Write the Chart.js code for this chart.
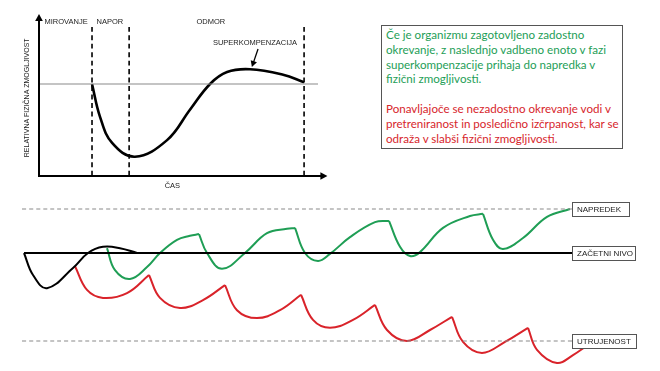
<!DOCTYPE html>
<html>
<head>
<meta charset="utf-8">
<script src="https://cdn.jsdelivr.net/npm/chart.js@4.4.1/dist/chart.umd.min.js"></script>
<style>
body { margin: 0; width: 660px; height: 371px; background: #fff; position: relative; overflow: hidden; }
canvas { position: absolute; left: 0; }
#topChart { top: 0; }
#bottomChart { top: 180px; }
#note {
    position: absolute; left: 381px; top: 25px; width: 242px; height: 124px;
    border: 1px solid #555; box-sizing: border-box;
    font-family: Lato, sans-serif; font-size: 11.6px; line-height: 14.8px;
    padding: 0 0 0 4px; white-space: nowrap;
}
#note p { margin: 2px 0 0 0; }
#note .g { color: #1e9e57; }
#note .r { color: #d7262c; margin-top: 14.8px; }
</style>
</head>
<body>
<canvas id="topChart" width="340" height="200"></canvas>
<canvas id="bottomChart" width="660" height="191"></canvas>
<div id="note">
<p class="g">Če je organizmu zagotovljeno zadostno<br>okrevanje, z naslednjo vadbeno enoto v fazi<br>superkompenzacije prihaja do napredka v<br>fizični zmogljivosti.</p>
<p class="r">Ponavljajoče se nezadostno okrevanje vodi v<br>pretreniranost in posledično izčrpanost, kar se<br>odraža v slabši fizični zmogljivosti.</p>
</div>
<script>
// --- zgornji graf: superkompenzacija
const topX = [19, 21.9, 26.2, 34.4, 45.9, 54.1, 61.3, 67.4, 75.6, 87.5, 95];
const topY = [100, 64, 36, 21, 39, 72, 100, 113, 116, 110, 102];
const phaseBounds = [19, 32.3, 95];
const phaseLabels = ['MIROVANJE', 'NAPOR', 'ODMOR'];
const phaseCenters = [9.7, 25.4, 61.6];
const baseLevel = 100;

// --- spodnji graf: ponavljajoče obremenitve
const blackX = [0.2, 1.1, 2.5, 5.1, 6.6, 8.1, 9.8, 11.5];
const blackY = [0, -0.5, -0.8, -0.34, 0, 0.14, 0.11, 0];

const greenX = [8.5, 9.3, 10.8, 12.5, 13.8, 15.5, 16.8, 17.7, 18.5, 20.0, 22.3, 24.5, 26.5, 27.3, 28.3, 29.6, 30.8, 32.8, 35.3, 36.7, 37.8, 38.8, 39.8, 42.1, 44.8, 46.1, 47.1, 48.1, 50.1, 52.5, 54.8];
const greenY = [0.11, -0.39, -0.59, -0.32, 0, 0.30, 0.39, 0.43, 0, -0.36, 0, 0.45, 0.55, 0.57, 0, -0.18, -0.02, 0.36, 0.70, 0.73, 0.14, -0.07, 0.02, 0.57, 0.84, 0.89, 0.30, 0.09, 0.34, 0.82, 1.0];
const greenCusps = [7, 13, 19, 25];

const redX = [5.3, 6.5, 8.1, 10.5, 12.7, 13.8, 15.8, 18.1, 20.3, 21.5, 23.5, 25.8, 27.9, 29.1, 30.8, 33.1, 35.3, 36.5, 38.5, 40.8, 43.0, 44.1, 46.0, 48.3, 50.6, 51.5, 53.5, 55.1, 56.6];
const redY = [-0.30, -0.84, -1.02, -0.91, -0.50, -1.02, -1.25, -1.07, -0.73, -1.30, -1.48, -1.30, -0.95, -1.52, -1.70, -1.52, -1.18, -1.75, -2.0, -1.75, -1.45, -2.02, -2.27, -2.02, -1.70, -2.2, -2.5, -2.32, -2.09];
const redCusps = [4, 8, 12, 16, 20, 24];

const levelValues = [1, 0, -2];
const levelLabels = ['NAPREDEK', 'ZAČETNI NIVO', 'UTRUJENOST'];
const levelEnd = 55;

const GREEN = '#1f9e55';
const RED = '#d9232a';

function pts(xs, ys) { return xs.map((x, i) => ({ x, y: ys[i] })); }

function curve(data, color, width) {
    return { data, borderColor: color, borderWidth: width, pointRadius: 0, fill: false, clip: false, tension: 0.4 };
}

function split(xs, ys, cusps, color) {
    const cuts = [0, ...cusps, xs.length - 1];
    const out = [];
    for (let i = 0; i < cuts.length - 1; i++) {
        out.push(curve(pts(xs.slice(cuts[i], cuts[i + 1] + 1), ys.slice(cuts[i], cuts[i + 1] + 1)), color, 2));
    }
    return out;
}

function arrowHead(ctx, x, y, dx, dy, size) {
    const len = Math.hypot(dx, dy), ux = dx / len, uy = dy / len;
    ctx.beginPath();
    ctx.moveTo(x, y);
    ctx.lineTo(x - ux * size - uy * size * 0.55, y - uy * size + ux * size * 0.55);
    ctx.lineTo(x - ux * size + uy * size * 0.55, y - uy * size - ux * size * 0.55);
    ctx.closePath();
    ctx.fill();
}

const topDecor = {
    id: 'topDecor',
    afterDatasetsDraw(chart) {
        const { ctx, scales: { x, y } } = chart;
        ctx.save();
        ctx.strokeStyle = '#000'; ctx.fillStyle = '#000'; ctx.lineWidth = 2;
        const x0 = x.getPixelForValue(0), y0 = y.getPixelForValue(0);
        const xEnd = x.getPixelForValue(x.max), yEnd = y.getPixelForValue(y.max);
        ctx.beginPath(); ctx.moveTo(x0, y0); ctx.lineTo(x0, yEnd + 3); ctx.stroke();
        ctx.beginPath(); ctx.moveTo(x0 - 1, y0); ctx.lineTo(xEnd - 3, y0); ctx.stroke();
        arrowHead(ctx, x0, yEnd - 1, 0, -1, 7);
        arrowHead(ctx, xEnd + 1, y0, 1, 0, 7);

        ctx.font = '7.5px "Liberation Sans", Arial, sans-serif';
        ctx.fillStyle = '#222';
        ctx.textAlign = 'center'; ctx.textBaseline = 'middle';
        phaseLabels.forEach((t, i) => ctx.fillText(t, x.getPixelForValue(phaseCenters[i]), y.getPixelForValue(168)));
        ctx.fillText('SUPERKOMPENZACIJA', x.getPixelForValue(77.4), y.getPixelForValue(144.6));
        ctx.fillText('ČAS', x.getPixelForValue(47.8), y0 + 10);

        // puščica na superkompenzacijo
        const ax = x.getPixelForValue(78.5), ay = y.getPixelForValue(138);
        const bx = x.getPixelForValue(76.3), by = y.getPixelForValue(118.5);
        ctx.strokeStyle = '#000'; ctx.lineWidth = 1.3;
        ctx.beginPath(); ctx.moveTo(ax, ay); ctx.lineTo(bx + (ax - bx) * 0.2, by + (ay - by) * 0.2); ctx.stroke();
        ctx.fillStyle = '#000';
        arrowHead(ctx, bx, by, bx - ax, by - ay, 6);

        ctx.save();
        ctx.fillStyle = '#222';
        ctx.font = '7px "Liberation Sans", Arial, sans-serif';
        ctx.translate(x0 - 12, y.getPixelForValue(85));
        ctx.rotate(-Math.PI / 2);
        ctx.fillText('RELATIVNA FIZIČNA ZMOGLJIVOST', 0, 0);
        ctx.restore();
        ctx.restore();
    }
};

const topDatasets = [
    curve([{ x: 0, y: baseLevel }, { x: 100, y: baseLevel }], '#8a8a8a', 1.2),
    ...phaseBounds.map(b => ({ ...curve([{ x: b, y: 0 }, { x: b, y: 162 }], '#000', 1.6), borderDash: [5, 3.5] })),
    curve(pts(topX, topY), '#000', 2.6)
];

new Chart(document.getElementById('topChart'), {
    type: 'line',
    data: { datasets: topDatasets },
    options: {
        responsive: false, animation: false,
        layout: { padding: { left: 39, right: 13.6, top: 15, bottom: 24 } },
        plugins: { legend: { display: false }, tooltip: { enabled: false } },
        scales: {
            x: { type: 'linear', min: 0, max: 103, display: false },
            y: { min: 0, max: 175, display: false }
        }
    },
    plugins: [topDecor]
});

const levelBoxes = {
    id: 'levelBoxes',
    afterDatasetsDraw(chart) {
        const { ctx, scales: { x, y } } = chart;
        ctx.save();
        ctx.font = '8px "Liberation Sans", Arial, sans-serif';
        ctx.textBaseline = 'middle';
        const widths = [57, 63, 64];
        levelLabels.forEach((t, i) => {
            const px = x.getPixelForValue(levelEnd), py = y.getPixelForValue(levelValues[i]);
            ctx.fillStyle = '#fff';
            ctx.fillRect(px, py - 7, widths[i], 14);
            ctx.strokeStyle = '#555'; ctx.lineWidth = 1;
            ctx.strokeRect(px + 0.5, py - 6.5, widths[i], 14);
            ctx.fillStyle = '#222';
            ctx.fillText(t, px + 5, py + 0.5);
        });
        ctx.restore();
    }
};

const bottomDatasets = [
    { ...curve([{ x: 0, y: levelValues[0] }, { x: levelEnd, y: levelValues[0] }], '#8a8a8a', 1.1), borderDash: [4, 3] },
    { ...curve([{ x: 0, y: levelValues[2] }, { x: levelEnd, y: levelValues[2] }], '#8a8a8a', 1.1), borderDash: [4, 3] },
    curve([{ x: 0.2, y: levelValues[1] }, { x: levelEnd, y: levelValues[1] }], '#000', 2),
    curve(pts(blackX, blackY), '#000', 2),
    ...split(greenX, greenY, greenCusps, GREEN),
    ...split(redX, redY, redCusps, RED)
];

new Chart(document.getElementById('bottomChart'), {
    type: 'line',
    data: { datasets: bottomDatasets },
    options: {
        responsive: false, animation: false,
        layout: { padding: { left: 22, right: 24, top: 7, bottom: 3.6 } },
        plugins: { legend: { display: false }, tooltip: { enabled: false } },
        scales: {
            x: { type: 'linear', min: 0, max: 61.4, display: false },
            y: { min: -2.6, max: 1.5, display: false }
        }
    },
    plugins: [levelBoxes]
});
</script>
</body>
</html>
